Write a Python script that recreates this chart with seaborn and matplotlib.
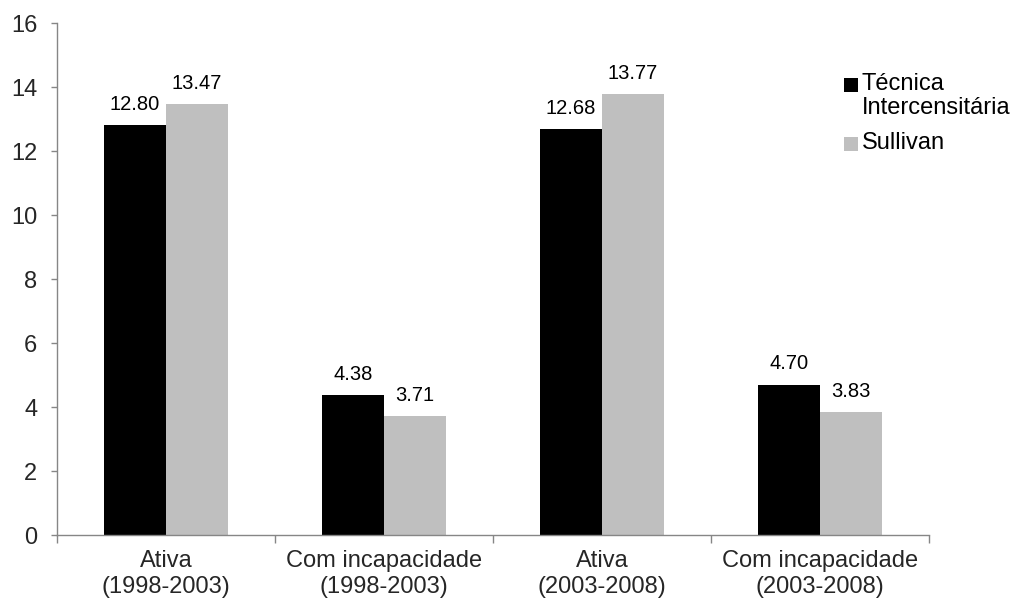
import matplotlib
matplotlib.use("Agg")
import matplotlib.pyplot as plt
from matplotlib.patches import Rectangle
import seaborn as sns
import pandas as pd

categories = ["Ativa\n(1998-2003)", "Com incapacidade\n(1998-2003)",
              "Ativa\n(2003-2008)", "Com incapacidade\n(2003-2008)"]
series_names = ["Técnica\nIntercensitária", "Sullivan"]
tecnica = [12.80, 4.38, 12.68, 4.70]
sullivan = [13.47, 3.71, 13.77, 3.83]
yticks = [0, 2, 4, 6, 8, 10, 12, 14, 16]

sns.set_style("white")
plt.rcParams["font.family"] = ["Liberation Sans", "DejaVu Sans"]

df = pd.DataFrame({
    "categoria": categories * 2,
    "serie": [series_names[0]] * 4 + [series_names[1]] * 4,
    "valor": tecnica + sullivan,
})

W, H = 1014, 606
fig = plt.figure(figsize=(W / 100, H / 100), dpi=100)
ax = fig.add_axes([57 / W, 1 - 535 / H, (929 - 57) / W, (535 - 23) / H])

palette = {series_names[0]: "#000000", series_names[1]: "#BFBFBF"}
sns.barplot(data=df, x="categoria", y="valor", hue="serie", palette=palette,
            width=0.57, gap=0, saturation=1, errorbar=None, ax=ax,
            order=categories, hue_order=series_names, legend=False,
            linewidth=0, edgecolor="none")

for container in ax.containers:
    ax.bar_label(container, fmt="%.2f", padding=8, fontsize=14.5, color="#000000")

ax.set_xlim(-0.5, len(categories) - 0.5)
ax.set_ylim(0, 16)
ax.set_yticks(yticks)
ax.set_yticklabels([str(v) for v in yticks], fontsize=17)
ax.tick_params(axis="y", length=4.3, width=1, color="#868686", pad=10, left=True)

# category labels on minor ticks, boundary ticks on major ticks
ax.set_xticks([i - 0.5 for i in range(len(categories) + 1)])
ax.set_xticklabels([""] * (len(categories) + 1))
ax.set_xticks(range(len(categories)), minor=True)
ax.set_xticklabels(categories, minor=True, fontsize=17)
ax.tick_params(axis="x", which="major", length=5.8, width=1, color="#868686", bottom=True)
ax.tick_params(axis="x", which="minor", length=0, pad=11)

ax.set_xlabel("")
ax.set_ylabel("")
for side in ["top", "right"]:
    ax.spines[side].set_visible(False)
for side in ["left", "bottom"]:
    ax.spines[side].set_color("#868686")
    ax.spines[side].set_linewidth(1)

# legend: square key aligned with the first line of each label
legend_rows = [(series_names[0], 78), (series_names[1], 137)]
for name, top_px in legend_rows:
    fig.patches.append(Rectangle((844 / W, 1 - (top_px + 14) / H), 14 / W, 14 / H,
                                 transform=fig.transFigure, facecolor=palette[name],
                                 edgecolor="none"))
    fig.text(862 / W, 1 - (top_px - 5) / H, name, fontsize=17, va="top", ha="left",
             linespacing=1.1, color="#000000")

fig.savefig("out.png", dpi=100, facecolor="white")
